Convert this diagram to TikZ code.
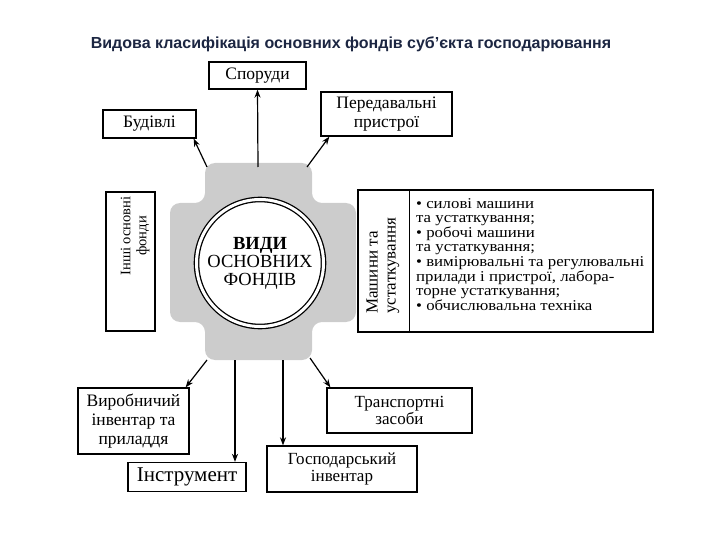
\documentclass[tikz,border=0pt]{standalone}
\usepackage{fontspec}
\setmainfont{Liberation Serif}
\newfontfamily\titlefont{Liberation Sans}
\newfontfamily\listfont[FakeStretch=1.12]{Liberation Serif}
\usetikzlibrary{arrows.meta}
\definecolor{titleblue}{RGB}{28,38,66}
\begin{document}
\begin{tikzpicture}[x=1pt,y=-1pt,
  box/.style={draw, line width=1.3pt, inner sep=0pt, align=center,
    font=\fontsize{17.5}{19}\selectfont},
  arr/.style={line width=1.2pt, -{Stealth[length=8pt,width=6pt]}},
  vtext/.style={rotate=90, inner sep=0pt},
]
\useasboundingbox (0,0) rectangle (720,540);

% title
\node[font=\titlefont\bfseries\fontsize{16}{18}\selectfont, text=titleblue] (title) at (351,44)
  {Видова класифікація основних фондів суб’єкта господарювання};

% shaded area around the centre
\fill[black!20, rounded corners=10pt] (205,163) -- (312,163) -- (312,203) -- (356,203) -- (356,322)
  -- (312,322) -- (312,360) -- (205,360) -- (205,322) -- (170,322) -- (170,203) -- (205,203) -- cycle;

% centre
\node[circle, draw, double, double distance=3pt, line width=1.3pt, fill=white,
  minimum size=127pt, align=center, inner sep=0pt,
  font=\fontsize{18.5}{18}\selectfont] (core) at (260,263)
  {\textbf{ВИДИ}\\ОСНОВНИХ\\ФОНДІВ};

% boxes
\node[box, minimum width=97pt, minimum height=27pt] (sporudy) at (257.5,75.5) {Споруди};
\node[box, minimum width=93pt, minimum height=28pt] (budivli) at (149.5,124) {Будівлі};
\node[box, minimum width=131pt, minimum height=44pt] (peredav) at (386.5,114) {Передавальні\\пристрої};
\node[box, minimum width=49pt, minimum height=139pt] (inshi) at (130.5,261.5) {};
\node[vtext, align=center, font=\fontsize{14.5}{16}\selectfont] (inshitext) at (135,236) {Інші основні\\фонди};
\node[box, minimum width=295pt, minimum height=142pt] (mashyny) at (505.5,261) {};
\draw[line width=1.3pt] ([xshift=52pt]mashyny.north west) -- ([xshift=52pt]mashyny.south west);
\node[vtext, align=left, anchor=west, font=\fontsize{17}{18}\selectfont] (mashtext) at (383,314)
  {Машини та\\устаткування};
\node[anchor=north west, align=left, inner sep=0pt, font=\listfont\fontsize{15}{14.6}\selectfont] (list) at (416,198)
  {\textbullet{} силові машини\\
   та устаткування;\\
   \textbullet{} робочі машини\\
   та устаткування;\\
   \textbullet{} вимірювальні та регулювальні\\
   прилади і пристрої, лабора-\\
   торне устаткування;\\
   \textbullet{} обчислювальна техніка};

\node[box, minimum width=111pt, minimum height=66pt] (vyrobn) at (133.5,421) {Виробничий\\інвентар та\\приладдя};
\node[box, minimum width=118pt, minimum height=29pt, font=\fontsize{21}{22}\selectfont] (instr) at (187,477) {Інструмент};
\node[box, minimum width=150pt, minimum height=46pt, font=\fontsize{17}{17}\selectfont] (gospod) at (342,469) {Господарський\\інвентар};
\node[box, minimum width=145pt, minimum height=45pt, font=\fontsize{17}{17}\selectfont] (transp) at (399.5,410.5) {Транспортні\\засоби};

% connectors
\coordinate (sU) at (258,167);
\coordinate (sUL) at (207,167);
\coordinate (sUR) at (307,167);
\coordinate (sDL) at (207,360);
\coordinate (sD1) at (235,360);
\coordinate (sD2) at (283,360);
\coordinate (sDR) at (310,358);
\draw[arr] (sU) -- (sporudy.south);
\draw[arr] (sUL) -- ([xshift=-3pt]budivli.south east);
\draw[arr] (sUR) -- ([xshift=9pt]peredav.south west);
\draw[arr] (sDL) -- ([xshift=-4pt]vyrobn.north east);
\draw[arr] (sD1) -- (sD1 |- instr.north);
\draw[arr] (sD2) -- (sD2 |- gospod.north);
\draw[arr] (sDR) -- ([xshift=4pt]transp.north west);
\end{tikzpicture}
\end{document}
